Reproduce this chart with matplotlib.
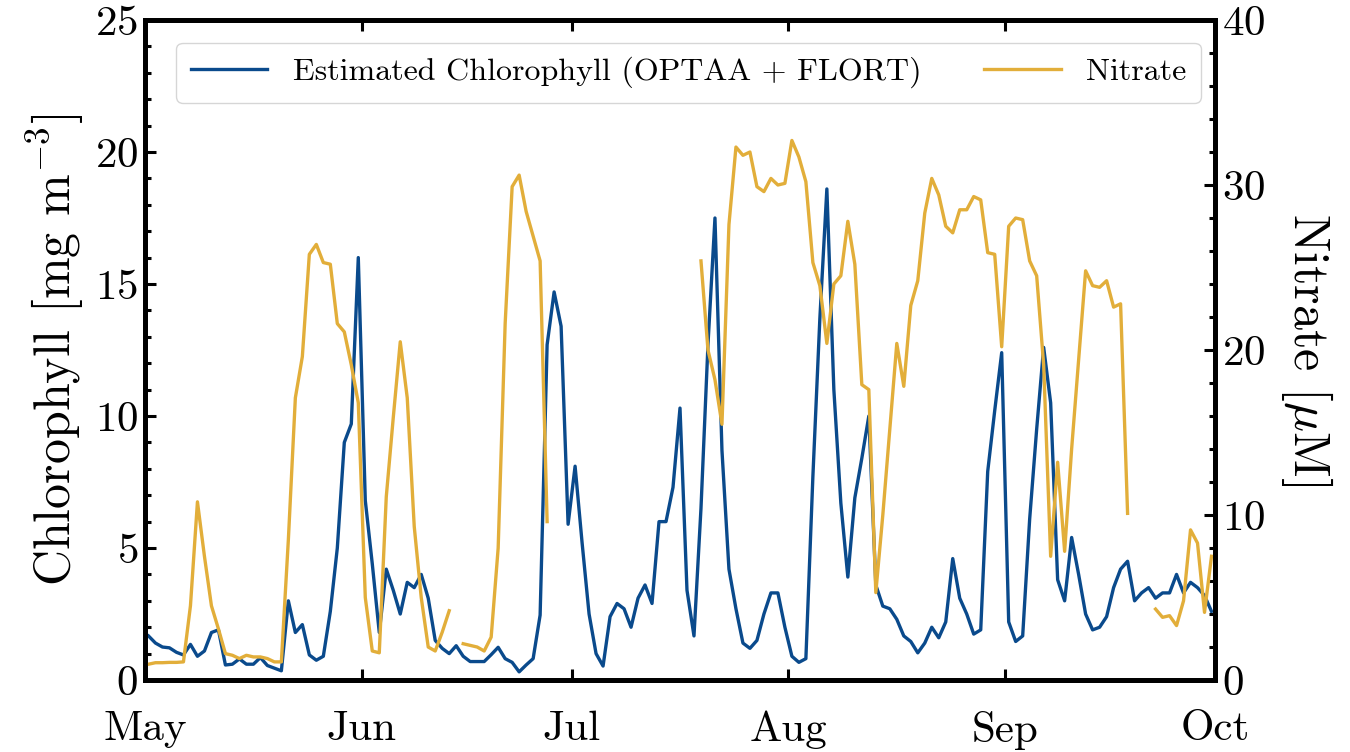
import numpy as np
import pandas as pd
import matplotlib
matplotlib.use("Agg")
import matplotlib.pyplot as plt
import matplotlib.dates as mdates

plt.rcParams["font.family"] = "serif"
plt.rcParams["font.serif"] = ["cmr10", "DejaVu Serif"]
plt.rcParams["mathtext.fontset"] = "cm"
plt.rcParams["axes.unicode_minus"] = False
plt.rcParams["axes.formatter.use_mathtext"] = True

# daily estimated chlorophyll [mg m-3], May 1 .. Sep 30
chl = [
    1.67, 1.4, 1.25, 1.22, 1.05, 0.95, 1.35, 0.9, 1.1, 1.8,
    1.9, 0.57, 0.6, 0.8, 0.6, 0.6, 0.85, 0.55, 0.45, 0.35,
    3.0, 1.8, 2.1, 0.95, 0.75, 0.9, 2.6, 5.0, 9.0, 9.7,
    16.0, 6.8, 4.4, 1.8, 4.2, 3.4, 2.5, 3.7, 3.5, 4.0,
    3.1, 1.5, 1.2, 1.0, 1.3, 0.9, 0.7, 0.7, 0.7, 0.96,
    1.24, 0.81, 0.67, 0.31, 0.57, 0.81, 2.46, 12.7, 14.7, 13.4,
    5.9, 8.1, 5.2, 2.5, 1.0, 0.53, 2.4, 2.9, 2.7, 2.0,
    3.1, 3.6, 2.9, 6.0, 6.0, 7.3, 10.3, 3.4, 1.67, 6.5,
    12.7, 17.5, 8.7, 4.2, 2.7, 1.4, 1.2, 1.5, 2.5, 3.3,
    3.3, 2.0, 0.9, 0.67, 0.81, 7.7, 13.7, 18.6, 11.0, 6.7,
    3.9, 6.9, 8.4, 10.0, 3.6, 2.8, 2.7, 2.3, 1.67, 1.46,
    1.03, 1.4, 2.0, 1.6, 2.2, 4.6, 3.1, 2.5, 1.74, 1.9,
    7.9, 10.2, 12.4, 2.2, 1.46, 1.67, 6.1, 9.5, 12.6, 10.5,
    3.8, 3.0, 5.4, 4.0, 2.5, 1.9, 2.0, 2.4, 3.5, 4.2,
    4.5, 3.0, 3.3, 3.5, 3.1, 3.3, 3.3, 4.0, 3.3, 3.7,
    3.5, 3.2, 2.6,
]

# daily nitrate [uM], NaN where the sensor has no data
nan = np.nan
nitrate = [
    0.96, 1.05, 1.05, 1.07, 1.07, 1.1, 4.5, 10.8, 7.5, 4.5,
    3.1, 1.6, 1.5, 1.3, 1.5, 1.4, 1.4, 1.3, 1.1, 1.1,
    8.5, 17.1, 19.6, 25.8, 26.4, 25.3, 25.2, 21.6, 21.1, 19.1,
    16.8, 5.0, 1.76, 1.65, 11.1, 15.9, 20.5, 17.1, 9.3, 5.0,
    2.0, 1.76, 2.9, 4.2, nan, 2.2, 2.1, 2.0, 1.76, 2.6,
    8.0, 21.6, 29.9, 30.6, 28.4, 26.9, 25.4, 9.6, nan, nan,
    nan, nan, nan, nan, nan, nan, nan, nan, nan, nan,
    nan, nan, nan, nan, nan, nan, nan, nan, nan, 25.4,
    20.0, 18.2, 15.5, 27.6, 32.3, 31.8, 32.0, 29.9, 29.6, 30.4,
    30.0, 30.1, 32.7, 31.7, 30.2, 25.3, 23.9, 20.4, 24.0, 24.5,
    27.8, 25.2, 17.9, 17.6, 5.3, 10.0, 15.2, 20.4, 17.8, 22.7,
    24.2, 28.3, 30.4, 29.4, 27.5, 27.1, 28.5, 28.5, 29.3, 29.1,
    25.9, 25.8, 20.2, 27.5, 28.0, 27.9, 25.4, 24.5, 19.1, 7.5,
    13.2, 7.8, 14.0, 19.4, 24.8, 23.9, 23.8, 24.2, 22.6, 22.8,
    10.1, nan, nan, nan, 4.3, 3.8, 3.9, 3.3, 4.8, 9.1,
    8.3, 4.1, 7.5,
]

dates = pd.date_range("2021-05-01 12:00", periods=len(chl), freq="D")

blue = "#0a4a8c"
gold = "#e2ae3a"

fig = plt.figure(figsize=(13.5, 7.52), dpi=100)
ax = fig.add_axes([0.1074, 0.0957, 0.7926, 0.8777])
ax2 = ax.twinx()

l1, = ax.plot(dates, chl, color=blue, lw=2.4,
              label="Estimated Chlorophyll (OPTAA + FLORT)")
l2, = ax2.plot(dates, nitrate, color=gold, lw=2.4, label="Nitrate")

ax.set_xlim(pd.Timestamp("2021-05-01"), pd.Timestamp("2021-10-01"))
ax.set_ylim(0, 25)
ax2.set_ylim(0, 40)

ax.xaxis.set_major_locator(mdates.MonthLocator())
ax.xaxis.set_major_formatter(mdates.DateFormatter("%b"))
ax.set_yticks(np.arange(0, 26, 5))
ax.set_yticks(np.arange(0, 26, 1), minor=True)
ax2.set_yticks(np.arange(0, 41, 10))
ax2.set_yticks(np.arange(0, 41, 2), minor=True)

for a in (ax, ax2):
    for s in a.spines.values():
        s.set_linewidth(3.5)
    a.tick_params(which="major", direction="in", length=8, width=2.2,
                  labelsize=31)
    a.tick_params(which="minor", direction="in", length=4.5, width=2.2)

ax.tick_params(axis="x", which="both", top=True, pad=22)
ax.tick_params(axis="y", which="both", right=False, pad=5)
ax2.tick_params(axis="y", which="both", left=False, pad=5)

ax.set_ylabel(r"Chlorophyll [mg m$^{-3}$]", fontsize=36, labelpad=6)
ax2.set_ylabel(r"Nitrate [$\mu$M]", fontsize=36, labelpad=10, rotation=270,
               va="bottom")

leg = ax2.legend([l1, l2], [l1.get_label(), l2.get_label()], loc="upper center",
                 bbox_to_anchor=(0.508, 0.99), ncol=2, fontsize=23,
                 handlelength=2.4, handletextpad=0.8, columnspacing=1.95,
                 frameon=True, fancybox=True, borderpad=0.45)
leg.get_frame().set_edgecolor("#cccccc")
leg.get_frame().set_linewidth(1.0)

fig.savefig("out.png", dpi=100)
